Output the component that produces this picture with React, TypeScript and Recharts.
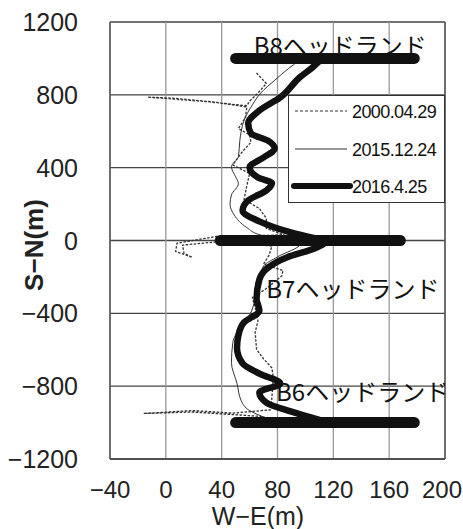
import React from 'react';
import { ScatterChart, Scatter, XAxis, YAxis, CartesianGrid, Legend, Label, ReferenceLine } from 'recharts';

const FONT = '"Liberation Sans", Arial, sans-serif';
const JP_FONT = '"Noto Sans CJK JP", "Noto Sans", sans-serif';

const xTicks = [-40, 0, 40, 80, 120, 160, 200];
const yTicks = [-1200, -800, -400, 0, 400, 800, 1200];
const seriesNames = ['2000.04.29', '2015.12.24', '2016.4.25'];

// shoreline surveys, W-E offset (x) against S-N distance (y)
const shore2000 = [
  { x: 65, y: 920 }, { x: 72, y: 862 }, { x: 66, y: 810 }, { x: 60, y: 765 }, { x: 58, y: 740 },
  { x: 30, y: 762 }, { x: 0, y: 780 }, { x: -13, y: 787 }, { x: 5, y: 782 }, { x: 35, y: 760 },
  { x: 58, y: 733 }, { x: 57, y: 675 }, { x: 52, y: 615 }, { x: 60, y: 580 }, { x: 61, y: 540 },
  { x: 54, y: 480 }, { x: 48, y: 415 }, { x: 60, y: 368 }, { x: 58, y: 300 }, { x: 56, y: 225 },
  { x: 67, y: 176 }, { x: 72, y: 121 }, { x: 72, y: 66 }, { x: 85, y: 30 }, { x: 36, y: 22 },
  { x: 8, y: -15 }, { x: 7, y: -60 }, { x: 19, y: -93 }, { x: 13, y: -70 }, { x: 12, y: -25 },
  { x: 36, y: -8 }, { x: 76, y: -30 }, { x: 74, y: -80 }, { x: 70, y: -130 }, { x: 84, y: -165 },
  { x: 83, y: -195 }, { x: 72, y: -264 }, { x: 62, y: -313 }, { x: 64, y: -368 }, { x: 66, y: -440 },
  { x: 64, y: -505 }, { x: 65, y: -598 }, { x: 70, y: -650 }, { x: 76, y: -700 }, { x: 77, y: -752 },
  { x: 76, y: -862 }, { x: 75, y: -930 }, { x: 48, y: -948 }, { x: 19, y: -934 }, { x: -16, y: -950 },
  { x: 19, y: -942 }, { x: 48, y: -956 }, { x: 68, y: -966 }, { x: 78, y: -990 },
];

const shore2015 = [
  { x: 95, y: 985 }, { x: 88, y: 945 }, { x: 78, y: 880 }, { x: 68, y: 810 }, { x: 62, y: 745 },
  { x: 56, y: 660 }, { x: 54, y: 600 }, { x: 53, y: 549 }, { x: 52, y: 460 }, { x: 47, y: 405 },
  { x: 50, y: 350 }, { x: 52, y: 313 }, { x: 47, y: 250 }, { x: 46, y: 200 }, { x: 49, y: 140 },
  { x: 58, y: 71 }, { x: 68, y: 30 }, { x: 90, y: 8 }, { x: 96, y: -20 }, { x: 80, y: -90 },
  { x: 70, y: -140 }, { x: 67, y: -220 }, { x: 64, y: -320 }, { x: 60, y: -410 }, { x: 54, y: -470 },
  { x: 48, y: -560 }, { x: 47, y: -670 }, { x: 51, y: -785 }, { x: 54, y: -880 }, { x: 60, y: -934 },
  { x: 72, y: -975 },
];

const shore2016 = [
  { x: 110, y: 985 }, { x: 105, y: 950 }, { x: 96, y: 896 }, { x: 82, y: 786 }, { x: 67, y: 714 },
  { x: 59, y: 643 }, { x: 61, y: 588 }, { x: 73, y: 549 }, { x: 78, y: 505 }, { x: 70, y: 456 },
  { x: 60, y: 401 }, { x: 66, y: 346 }, { x: 76, y: 315 }, { x: 72, y: 275 }, { x: 59, y: 220 },
  { x: 55, y: 165 }, { x: 67, y: 105 }, { x: 87, y: 50 }, { x: 105, y: 15 }, { x: 115, y: 0 },
  { x: 106, y: -45 }, { x: 87, y: -92 }, { x: 73, y: -150 }, { x: 67, y: -215 }, { x: 65, y: -320 },
  { x: 67, y: -385 }, { x: 56, y: -450 }, { x: 52, y: -520 }, { x: 51, y: -590 }, { x: 55, y: -675 },
  { x: 67, y: -731 }, { x: 82, y: -785 }, { x: 67, y: -835 }, { x: 72, y: -890 }, { x: 90, y: -940 },
  { x: 110, y: -985 },
];

const headB8 = [{ x: 50, y: 1000 }, { x: 178, y: 1000 }];
const headB7 = [{ x: 39, y: 0 }, { x: 168, y: 0 }];
const headB6 = [{ x: 50, y: -1000 }, { x: 178, y: -1000 }];
const headLabels = [
  { x: 125, y: 1068, text: 'B8ヘッドランド' },
  { x: 134, y: -268, text: 'B7ヘッドランド' },
  { x: 141, y: -830, text: 'B6ヘッドランド' },
];

const fmt = (v: number) => (v < 0 ? '\u2212' + Math.abs(v) : String(v));
const noDot = () => <g />;

const YTick = (props: any) => (
  <text x={props.x} y={props.y} dy={9} textAnchor="end" fontSize={25} fontFamily={FONT} fill="#222">
    {fmt(props.payload.value)}
  </text>
);

const XTick = (props: any) => {
  const last = props.payload.value === xTicks[xTicks.length - 1];
  return (
    <text x={last ? 462 : props.x} y={props.y} dy={17} textAnchor={last ? 'end' : 'middle'} fontSize={24}
      fontFamily={FONT} fill="#222">
      {fmt(props.payload.value)}
    </text>
  );
};

const HeadText = (props: any) => (
  <text x={props.cx} y={props.cy} dy={9} textAnchor="middle" fontSize={24} fontFamily={JP_FONT} fill="#111">
    {props.payload.text}
  </text>
);

const renderLegend = () => (
  <svg width={157} height={108} style={{ display: 'block' }}>
    <rect x={0.5} y={0.5} width={156} height={107} fill="#fff" stroke="#333" />
    <line x1={7} x2={59} y1={16} y2={16} stroke="#333" strokeWidth={1.2} strokeDasharray="3 2" />
    <line x1={7} x2={59} y1={54} y2={54} stroke="#333" strokeWidth={1} />
    <line x1={6} x2={62} y1={91} y2={91} stroke="#111" strokeWidth={6} strokeLinecap="round" />
    {seriesNames.map((n, i) => (
      <text key={n} x={64} y={[16, 54, 91][i]} dy={6.5} fontSize={18} fontFamily={FONT} fill="#111" letterSpacing={-0.6}>
        {n}
      </text>
    ))}
  </svg>
);

export default function App() {
  return (
    <div style={{ position: 'absolute', left: 0, top: 0, width: 463, height: 529, background: '#fff' }}>
      <ScatterChart width={463} height={529} margin={{ top: 22, right: 18, bottom: 0, left: 0 }}>
        <CartesianGrid vertical={false} stroke="#444" strokeWidth={1.3} />
        <CartesianGrid horizontal={false} stroke="#999" strokeWidth={1.3} />
        <XAxis
          type="number"
          dataKey="x"
          domain={[-40, 200]}
          ticks={xTicks}
          allowDataOverflow
          height={70}
          tickSize={0}
          tickMargin={22}
          tick={<XTick />}
          stroke="#444"
          strokeWidth={1.3}
        >
          <Label
            content={() => (
              <text x={258} y={525} textAnchor="middle" fontSize={25} fontFamily={FONT} fill="#222">
                W{'\u2212'}E(m)
              </text>
            )}
          />
        </XAxis>
        <YAxis
          type="number"
          dataKey="y"
          domain={[-1200, 1200]}
          ticks={yTicks}
          allowDataOverflow
          width={110}
          tickSize={0}
          tickMargin={32}
          tick={<YTick />}
          stroke="#444"
          strokeWidth={1.3}
        >
          <Label
            content={() => (
              <text
                x={34}
                y={245}
                dy={9}
                textAnchor="middle"
                fontSize={26}
                fontWeight="bold"
                fontFamily={FONT}
                fill="#222"
                transform="rotate(-90, 34, 245)"
              >
                S{'\u2212'}N(m)
              </text>
            )}
          />
        </YAxis>
        <ReferenceLine x={200} stroke="#444" strokeWidth={1.3} />
        <Legend layout="vertical" align="center" verticalAlign="middle" content={renderLegend}
          wrapperStyle={{ left: 288, top: 95, width: 157, height: 108 }} />
        <Scatter name={seriesNames[0]} data={shore2000} shape={noDot} isAnimationActive={false} fill="#333"
          line={{ stroke: '#333', strokeWidth: 1.3, strokeDasharray: '2.5 1.5', strokeLinejoin: 'round' }} />
        <Scatter name={seriesNames[1]} data={shore2015} shape={noDot} isAnimationActive={false} fill="#333"
          lineJointType="monotoneY" line={{ stroke: '#333', strokeWidth: 1, strokeLinejoin: 'round' }} />
        <Scatter name={seriesNames[2]} data={shore2016} shape={noDot} isAnimationActive={false} fill="#111"
          lineJointType="monotoneY"
          line={{ stroke: '#111', strokeWidth: 6.5, strokeLinejoin: 'round', strokeLinecap: 'round' }} />
        {[headB8, headB7, headB6].map((h, i) => (
          <Scatter key={i} data={h} shape={noDot} isAnimationActive={false} fill="#111" legendType="none"
            line={{ stroke: '#111', strokeWidth: 11, strokeLinecap: 'round' }} />
        ))}
        <Scatter data={headLabels} shape={HeadText} isAnimationActive={false} legendType="none" />
      </ScatterChart>
    </div>
  );
}
